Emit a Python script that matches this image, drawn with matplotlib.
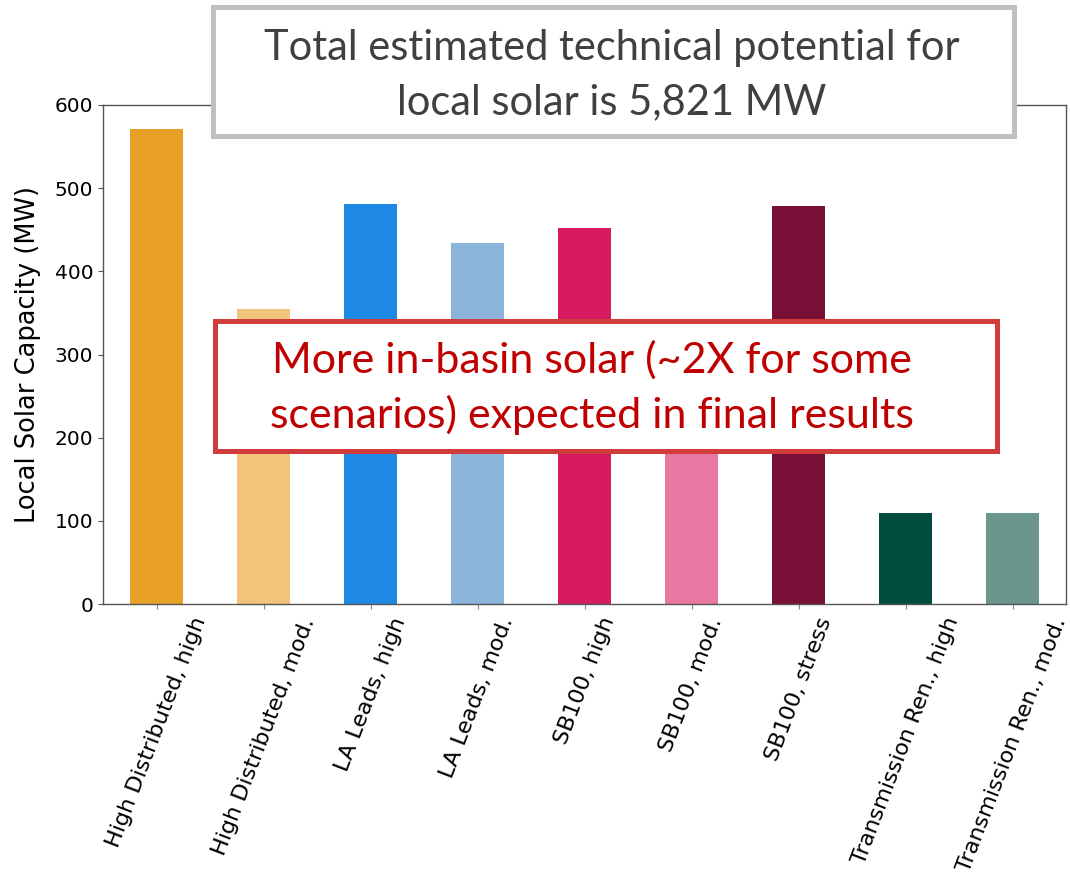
import matplotlib
matplotlib.use("Agg")
import matplotlib.pyplot as plt
from matplotlib.patches import Rectangle

scenarios = [
    "High Distributed, high", "High Distributed, mod.",
    "LA Leads, high", "LA Leads, mod.",
    "SB100, high", "SB100, mod.", "SB100, stress",
    "Transmission Ren., high", "Transmission Ren., mod.",
]
capacity_mw = [571, 355, 481, 434, 452, 300, 478, 110, 110]
bar_colors = ["#E8A126", "#F1C47B", "#1E88E5", "#8AB4DC", "#D81B60",
              "#E877A1", "#770F36", "#004D40", "#6A968D"]
yticks = [0, 100, 200, 300, 400, 500, 600]

title_lines = "Total estimated technical potential for\nlocal solar is 5,821 MW"
note_lines = "More in-basin solar (~2X for some\nscenarios) expected in final results"

W, H = 1070, 883
fig = plt.figure(figsize=(W / 100, H / 100), dpi=100)
ax = fig.add_axes([103 / W, 1 - 604 / H, (1066 - 103) / W, (604 - 105) / H])

ax.bar(range(len(scenarios)), capacity_mw, width=0.5, color=bar_colors)
ax.set_xlim(-0.5, len(scenarios) - 0.5)
ax.set_ylim(0, 600)
ax.set_yticks(yticks)
ax.set_xticks(range(len(scenarios)))
ax.set_xticklabels(scenarios, rotation=69, fontsize=16)
ax.tick_params(axis="y", labelsize=14.5, color="#555555")
ax.tick_params(axis="x", color="#888888", pad=4)
ax.set_ylabel("Local Solar Capacity (MW)", fontsize=18.5)
ax.yaxis.set_label_coords(-0.064, 0.5)
for s in ax.spines.values():
    s.set_color("#555555")
    s.set_linewidth(1.0)


def box(x0, y0, x1, y1, edge, text, tcolor, size, tx, ty, spacing):
    fig.patches.append(Rectangle((x0 / W, 1 - y1 / H), (x1 - x0) / W, (y1 - y0) / H,
                                 transform=fig.transFigure, facecolor="white",
                                 edgecolor=edge, linewidth=3.6, zorder=5))
    fig.text(tx / W, 1 - ty / H, text, color=tcolor,
             fontsize=size, ha="center", va="center", linespacing=spacing,
             family="Lato", zorder=6)


box(213, 7, 1014, 136, "#BFBFBF", title_lines, "#404040", 30, 612, 75, 1.52)
box(215, 321, 997, 451, "#D13B3B", note_lines, "#C00000", 31, 592, 388, 1.45)

fig.savefig("out.png", dpi=100)
